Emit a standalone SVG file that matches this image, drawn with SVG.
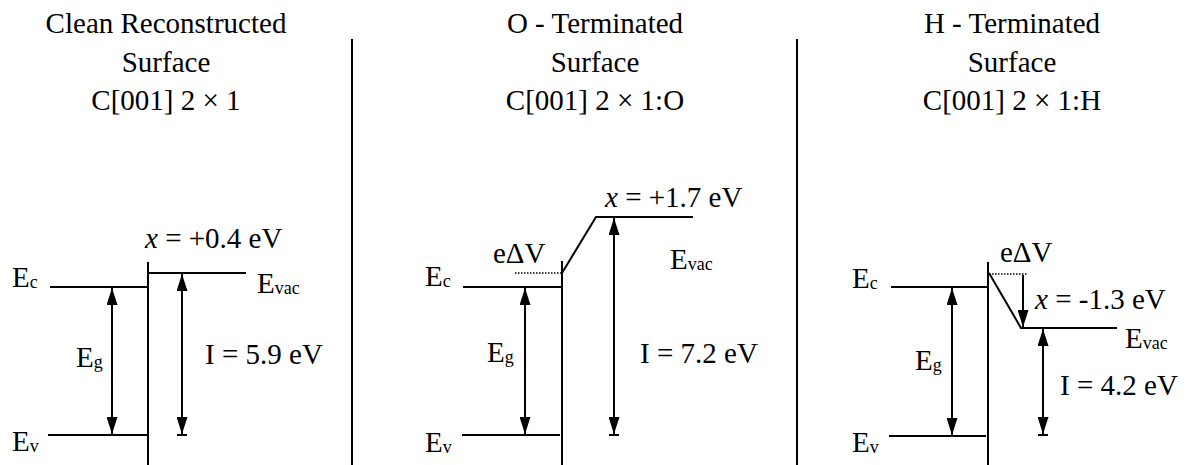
<svg xmlns="http://www.w3.org/2000/svg" width="1196" height="465" viewBox="0 0 1196 465">
<style>
text{font-family:"Liberation Serif","Times New Roman","DejaVu Serif",serif;font-size:29px;fill:#000}
.t{text-anchor:middle}
.sub{font-size:18px}
.ln{stroke:#000;stroke-width:2;fill:none}
.dot{stroke:#000;stroke-width:1.5;stroke-dasharray:1.5,1.5;fill:none}
.arr{stroke:#000;stroke-width:2;fill:none;marker-end:url(#ah)}
.arr2{stroke:#000;stroke-width:2;fill:none;marker-start:url(#ah);marker-end:url(#ah)}
</style>
<defs>
<marker id="ah" viewBox="0 0 17 11" refX="17" refY="5.5" markerWidth="17" markerHeight="11" markerUnits="userSpaceOnUse" orient="auto-start-reverse">
<path d="M0,0 L17,5.5 L0,11 z" fill="#000"/>
</marker>
</defs>
<rect width="1196" height="465" fill="#fff"/>

<g id="dividers">
<line class="ln" x1="352" y1="39" x2="352" y2="465"/>
<line class="ln" x1="797" y1="39" x2="797" y2="465"/>
</g>

<g id="title-clean">
<text class="t" x="166" y="33">Clean Reconstructed</text>
<text class="t" x="166" y="72">Surface</text>
<text class="t" x="166" y="110">C[001] 2 × 1</text>
</g>
<g id="title-O">
<text class="t" x="595" y="33">O - Terminated</text>
<text class="t" x="595" y="72">Surface</text>
<text class="t" x="595" y="110">C[001] 2 × 1:O</text>
</g>
<g id="title-H">
<text class="t" x="1012" y="33">H - Terminated</text>
<text class="t" x="1012" y="72">Surface</text>
<text class="t" x="1012" y="110">C[001] 2 × 1:H</text>
</g>

<g id="panel-clean">
<line class="ln" x1="148" y1="262" x2="148" y2="465"/>
<line class="ln" x1="50" y1="287" x2="148" y2="287"/>
<line class="ln" x1="48" y1="435" x2="147" y2="435"/>
<line class="ln" x1="148" y1="273" x2="246" y2="273"/>
<line class="ln" x1="177" y1="435" x2="187" y2="435"/>
<text x="12" y="287">E<tspan class="sub" dy="1">c</tspan></text>
<text x="12" y="451">E<tspan class="sub" dy="1">v</tspan></text>
<text x="76" y="367">E<tspan class="sub" dy="1">g</tspan></text>
<text x="257" y="293">E<tspan class="sub" dy="1">vac</tspan></text>
<text x="145" y="248"><tspan font-style="italic">x</tspan> = +0.4 eV</text>
<text x="205" y="364">I = 5.9 eV</text>
</g>

<g id="panel-O">
<line class="ln" x1="562" y1="261" x2="562" y2="465"/>
<line class="ln" x1="463" y1="287" x2="562" y2="287"/>
<line class="ln" x1="462" y1="435" x2="560" y2="435"/>
<line class="dot" x1="515" y1="273" x2="561" y2="273"/>
<polyline class="ln" points="562,273 596,217 693,217"/>
<line class="ln" x1="609" y1="435" x2="619" y2="435"/>
<text x="425" y="286">E<tspan class="sub" dy="1">c</tspan></text>
<text x="425" y="452">E<tspan class="sub" dy="1">v</tspan></text>
<text x="487" y="362">E<tspan class="sub" dy="1">g</tspan></text>
<text x="493" y="263">eΔV</text>
<text x="605" y="207"><tspan font-style="italic">x</tspan> = +1.7 eV</text>
<text x="670" y="269">E<tspan class="sub" dy="1">vac</tspan></text>
<text x="640" y="363">I = 7.2 eV</text>
</g>

<g id="panel-H">
<line class="ln" x1="988" y1="262" x2="988" y2="465"/>
<line class="ln" x1="891" y1="287" x2="988" y2="287"/>
<line class="ln" x1="889" y1="436" x2="986" y2="436"/>
<line class="dot" x1="989" y1="274" x2="1027" y2="274"/>
<polyline class="ln" points="989,273 1021,328 1117,328"/>
<line class="ln" x1="1038" y1="435" x2="1048" y2="435"/>
<text x="852" y="288">E<tspan class="sub" dy="1">c</tspan></text>
<text x="852" y="452">E<tspan class="sub" dy="1">v</tspan></text>
<text x="915" y="370">E<tspan class="sub" dy="1">g</tspan></text>
<text x="1000" y="262">eΔV</text>
<text x="1035" y="309"><tspan font-style="italic">x</tspan> = -1.3 eV</text>
<text x="1125" y="348">E<tspan class="sub" dy="1">vac</tspan></text>
<text x="1060" y="395">I = 4.2 eV</text>
</g>

<g id="connectors">
<line class="arr2" x1="112" y1="288" x2="112" y2="434"/>
<line class="arr2" x1="182" y1="274" x2="182" y2="434"/>
<line class="arr2" x1="525" y1="288" x2="525" y2="434"/>
<line class="arr2" x1="614" y1="218" x2="614" y2="434"/>
<line class="arr2" x1="952" y1="288" x2="952" y2="435"/>
<line class="arr" x1="1023" y1="275" x2="1023" y2="327"/>
<line class="arr2" x1="1043" y1="329" x2="1043" y2="434"/>
</g>
</svg>
